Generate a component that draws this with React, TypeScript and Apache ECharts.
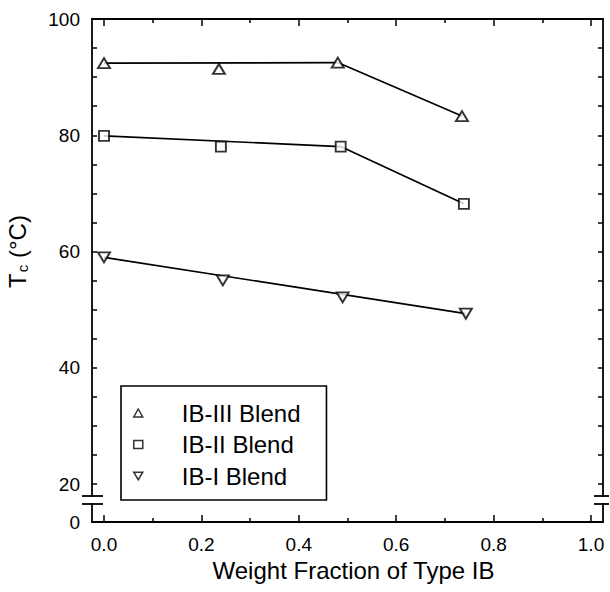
import React, { useEffect, useRef } from 'react';
import * as echarts from 'echarts';

// Data
const legendNames = ['IB-III Blend', 'IB-II Blend', 'IB-I Blend'];

const fractionIII = [0.0, 0.236, 0.48, 0.735];
const tcIII = [92.4, 91.4, 92.5, 83.3];
const fractionII = [0.0, 0.24, 0.486, 0.739];
const tcII = [79.9, 78.05, 78.05, 68.2];
const fractionI = [0.0, 0.244, 0.49, 0.743];
const tcI = [59.0, 55.05, 52.1, 49.3];

// Fitted lines drawn through the data
const fitIIIx = [0.0, 0.48, 0.735];
const fitIIIy = [92.4, 92.5, 83.3];
const fitIIx = [0.0, 0.486, 0.739];
const fitIIy = [79.9, 78.05, 68.2];
const fitIx = [0.0, 0.743];
const fitIy = [59.0, 49.3];

// Axis ranges / ticks
const xRange = [0, 1];
const xInterval = 0.2;
const yRange = [20, 100];
const yInterval = 20;
const yLowRange = [0, 3.1];

const zip = (xs: number[], ys: number[]) => xs.map((x, i) => [x, ys[i]]);

const FONT = 'Liberation Sans, Arial, Helvetica, sans-serif';
const BLACK = '#000';

// Layout
const DATA_LEFT = 104;
const DATA_TOP = 19;
const DATA_W = 487;
const DATA_H = 465;
const FRAME_LEFT = 92;
const FRAME_RIGHT = 603;
const FRAME_TOP = 19;
const BREAK_UP = 496;
const BREAK_LO = 504;
const FRAME_BOTTOM = 522;

const layerStyle: any = { position: 'fixed', left: 0, top: 0, width: 610, height: 592 };

function TickLayer() {
  const ref = useRef<HTMLDivElement>(null);
  useEffect(() => {
    if (!ref.current) return;
    const chart = echarts.init(ref.current, undefined, { renderer: 'svg' });
    const tick = { color: BLACK, width: 1.5 };
    const xAx = (position: string, offset: number) => ({
      type: 'value', position, offset, min: xRange[0], max: xRange[1], interval: xInterval,
      axisLine: { show: false, onZero: false }, splitLine: { show: false },
      axisTick: { show: true, inside: true, length: 7, lineStyle: tick },
      minorTick: { show: true, splitNumber: 2, length: 4, lineStyle: tick },
      axisLabel: { show: false },
    });
    const yAx = (position: string) => ({
      type: 'value', position, offset: DATA_LEFT - FRAME_LEFT, min: yRange[0], max: yRange[1], interval: yInterval,
      axisLine: { show: false, onZero: false }, splitLine: { show: false },
      axisTick: { show: true, inside: true, length: 5, lineStyle: tick },
      minorTick: { show: true, splitNumber: 4, length: 5, lineStyle: tick },
      axisLabel: { show: false },
    });
    chart.setOption({
      animation: false,
      grid: [{ left: DATA_LEFT, top: DATA_TOP, width: DATA_W, height: DATA_H, outerBoundsMode: 'none' }],
      xAxis: [xAx('top', 0), xAx('bottom', FRAME_BOTTOM - (DATA_TOP + DATA_H))],
      yAxis: [yAx('left'), yAx('right')],
      series: [{ type: 'scatter', data: [], silent: true }],
    });
    return () => chart.dispose();
  }, []);
  return <div ref={ref} style={{ ...layerStyle, pointerEvents: 'none', zIndex: 2 }} />;
}

function MainChart() {
  const ref = useRef<HTMLDivElement>(null);
  useEffect(() => {
    if (!ref.current) return;
    const chart = echarts.init(ref.current, undefined, { renderer: 'svg' });
    const axisLine = { show: true, onZero: false, lineStyle: { color: BLACK, width: 1.8 } };
    const noLine = { show: false, onZero: false };
    const markerStyle = { color: '#fff', borderColor: BLACK, borderWidth: 1.9 };
    const downTri = 'path://M0,0 L12,0 L6,10 Z';
    const noSplit = { show: false };

    const frameAxis = (gridIndex: number, position: string, extra: any = {}) => ({
      type: 'value', gridIndex, position,
      axisLine, splitLine: noSplit, axisTick: { show: false }, axisLabel: { show: false },
      ...extra,
    });

    const cap = (x: number, y: number, len: number) => ({
      type: 'rect', silent: true, z: 100,
      shape: { x, y: y - 0.9, width: len, height: 1.8 },
      style: { fill: BLACK },
    });

    const option: any = {
      animation: false,
      textStyle: { fontFamily: FONT, color: BLACK },
      grid: [
        { left: DATA_LEFT, top: DATA_TOP, width: DATA_W, height: DATA_H, outerBoundsMode: 'none' },
        { left: FRAME_LEFT, top: FRAME_TOP, width: FRAME_RIGHT - FRAME_LEFT, height: BREAK_UP - FRAME_TOP, outerBoundsMode: 'none' },
        { left: FRAME_LEFT, top: BREAK_LO, width: FRAME_RIGHT - FRAME_LEFT, height: FRAME_BOTTOM - BREAK_LO, outerBoundsMode: 'none' },
      ],
      xAxis: [
        {
          type: 'value', gridIndex: 0, position: 'bottom', offset: FRAME_BOTTOM - (DATA_TOP + DATA_H),
          min: xRange[0], max: xRange[1], interval: xInterval,
          axisLine: noLine, splitLine: noSplit, axisTick: { show: false },
          axisLabel: {
            show: true, margin: 13, fontSize: 19, color: BLACK, fontFamily: FONT,
            formatter: (v: number) => v.toFixed(1),
          },
          name: 'Weight Fraction of Type IB',
          nameLocation: 'middle',
          nameGap: 36,
          nameTextStyle: { fontSize: 24, color: BLACK, fontFamily: FONT, padding: [0, 0, 0, 12] },
        },
        frameAxis(1, 'top', { min: 0, max: 1 }),
        frameAxis(2, 'bottom', { min: 0, max: 1 }),
      ],
      yAxis: [
        {
          type: 'value', gridIndex: 0, position: 'left', offset: DATA_LEFT - FRAME_LEFT,
          min: yRange[0], max: yRange[1], interval: yInterval,
          axisLine: noLine, splitLine: noSplit, axisTick: { show: false },
          axisLabel: { show: true, margin: 12, fontSize: 19, color: BLACK, fontFamily: FONT },
          name: '{t|T}{s|c}{t| (°C)}',
          nameLocation: 'middle',
          nameRotate: 90,
          nameGap: 62,
          nameTextStyle: {
            fontFamily: FONT,
            rich: {
              t: { fontSize: 24, color: BLACK, fontFamily: FONT },
              s: { fontSize: 15, color: BLACK, fontFamily: FONT, padding: [10, 0, 0, 1] },
            },
          },
        },
        frameAxis(1, 'left', { min: 0, max: 1 }),
        frameAxis(1, 'right', { min: 0, max: 1 }),
        frameAxis(2, 'left', {
          min: yLowRange[0], max: yLowRange[1], interval: 5,
          axisLabel: {
            show: true, showMaxLabel: false, margin: 12, fontSize: 19, color: BLACK, fontFamily: FONT,
            formatter: (v: number) => (v === 0 ? '0' : ''),
          },
        }),
        frameAxis(2, 'right', { min: yLowRange[0], max: yLowRange[1], interval: 5 }),
      ],
      legend: {
        show: true,
        orient: 'vertical',
        left: 121,
        top: 386,
        data: legendNames,
        itemWidth: 9,
        itemHeight: 8,
        itemGap: 7.5,
        padding: [15, 26, 12, 12],
        backgroundColor: '#fff',
        borderColor: BLACK,
        borderWidth: 1.6,
        borderRadius: 0,
        selectedMode: false,
        itemStyle: { color: '#fff', borderColor: BLACK, borderWidth: 1.5 },
        textStyle: { fontSize: 24, color: BLACK, fontFamily: FONT, padding: [0, 0, 0, 34] },
        z: 10,
      },
      graphic: {
        elements: [
          cap(FRAME_LEFT - 10, BREAK_UP, 21),
          cap(FRAME_LEFT - 10, BREAK_LO, 21),
          cap(FRAME_RIGHT - 9, BREAK_UP, 15),
          cap(FRAME_RIGHT - 9, BREAK_LO, 15),
        ],
      },
      series: [
        { type: 'line', name: 'fit III', xAxisIndex: 0, yAxisIndex: 0, data: zip(fitIIIx, fitIIIy), symbol: 'none', lineStyle: { color: BLACK, width: 1.7 }, z: 2, silent: true },
        { type: 'line', name: 'fit II', xAxisIndex: 0, yAxisIndex: 0, data: zip(fitIIx, fitIIy), symbol: 'none', lineStyle: { color: BLACK, width: 1.7 }, z: 2, silent: true },
        { type: 'line', name: 'fit I', xAxisIndex: 0, yAxisIndex: 0, data: zip(fitIx, fitIy), symbol: 'none', lineStyle: { color: BLACK, width: 1.7 }, z: 2, silent: true },
        { type: 'scatter', name: legendNames[0], xAxisIndex: 0, yAxisIndex: 0, data: zip(fractionIII, tcIII), symbol: 'triangle', symbolSize: [12, 10], itemStyle: markerStyle, z: 3, clip: false },
        { type: 'scatter', name: legendNames[1], xAxisIndex: 0, yAxisIndex: 0, data: zip(fractionII, tcII), symbol: 'rect', symbolSize: [10, 10], itemStyle: markerStyle, z: 3, clip: false },
        { type: 'scatter', name: legendNames[2], xAxisIndex: 0, yAxisIndex: 0, data: zip(fractionI, tcI), symbol: downTri, symbolKeepAspect: false, symbolSize: [12, 10], itemStyle: markerStyle, z: 3, clip: false },
      ],
    };
    chart.setOption(option);
    return () => chart.dispose();
  }, []);
  return <div ref={ref} style={{ ...layerStyle, background: '#fff', zIndex: 1 }} />;
}

export default function App() {
  return (
    <>
      <MainChart />
      <TickLayer />
    </>
  );
}
